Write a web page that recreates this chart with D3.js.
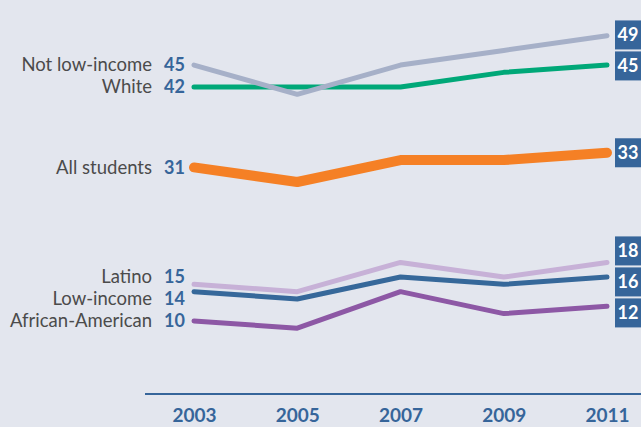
<!DOCTYPE html>
<html>
<head>
<meta charset="utf-8">
<script src="https://cdn.jsdelivr.net/npm/d3@7"></script>
<style>
  html, body { margin: 0; padding: 0; background: #e3e6ee; }
  svg { display: block; }
</style>
</head>
<body>
<svg id="chart" width="641" height="427"></svg>
<script>
// ---- data ----
const years = [2003, 2005, 2007, 2009, 2011];
const seriesNames = ["Not low-income", "White", "All students", "Latino", "Low-income", "African-American"];
const notLowIncome    = [45, 41, 45, 47, 49];
const white           = [42, 42, 42, 44, 45];
const allStudents     = [31, 29, 32, 32, 33];
const latino          = [15, 14, 18, 16, 18];
const lowIncome       = [14, 13, 16, 15, 16];
const africanAmerican = [10, 9, 14, 11, 12];

// ---- styles ----
const seriesColors = ["#a6b0c8", "#00a878", "#f58025", "#c7b1d7", "#36689a", "#8d58a5"];
const seriesWidths = [5, 5, 10, 5, 5, 5];
const drawOrder = [1, 0, 2, 3, 4, 5];
const blue = "#36659a";
const fontFam = "Lato, 'Open Sans', sans-serif";

const seriesValues = [notLowIncome, white, allStudents, latino, lowIncome, africanAmerican];
const series = seriesNames.map((name, i) => ({
  name, color: seriesColors[i], width: seriesWidths[i],
  values: years.map((yr, j) => ({ year: yr, value: seriesValues[i][j] }))
}));

const W = 641, H = 427;
const svg = d3.select("#chart");
svg.append("rect").attr("width", W).attr("height", H).attr("fill", "#e3e6ee");

const x = d3.scalePoint().domain(years).range([194, 607]);
const y = d3.scaleLinear().domain([0, 50]).range([394, 28.5]);

// axis
svg.append("line")
  .attr("x1", 145).attr("x2", W)
  .attr("y1", y(0)).attr("y2", y(0))
  .attr("stroke", blue).attr("stroke-width", 2);

const axis = svg.append("g")
  .attr("transform", `translate(0,${y(0)})`)
  .call(d3.axisBottom(x).tickSize(0).tickPadding(15).tickFormat(d3.format("d")));
axis.select(".domain").remove();
axis.selectAll("text")
  .attr("fill", blue)
  .style("font-family", fontFam)
  .style("font-size", "19px")
  .style("font-weight", "bold");

// lines
const line = d3.line().x(d => x(d.year)).y(d => y(d.value));
svg.append("g").selectAll("path")
  .data(drawOrder.map(i => series[i]))
  .join("path")
  .attr("d", d => line(d.values))
  .attr("fill", "none")
  .attr("stroke", d => d.color)
  .attr("stroke-width", d => d.width)
  .attr("stroke-linecap", "round")
  .attr("stroke-linejoin", "round");

// label de-overlap: groups of close labels spread around their mean
function spread(targets, gap) {
  const items = targets.map((t, i) => ({ i, t })).sort((a, b) => a.t - b.t);
  let groups = items.map(it => ({ members: [it], top: it.t }));
  let changed = true;
  const place = g => {
    const mean = d3.mean(g.members, m => m.t);
    g.top = mean - (g.members.length - 1) * gap / 2;
  };
  groups.forEach(place);
  while (changed) {
    changed = false;
    for (let k = 0; k < groups.length - 1; k++) {
      const a = groups[k], b = groups[k + 1];
      const aBottom = a.top + (a.members.length - 1) * gap;
      if (b.top - aBottom < gap) {
        a.members = a.members.concat(b.members);
        place(a);
        groups.splice(k + 1, 1);
        changed = true;
        break;
      }
    }
  }
  const out = new Array(targets.length);
  groups.forEach(g => g.members.forEach((m, j) => { out[m.i] = g.top + j * gap; }));
  return out;
}

// left labels
const leftY = spread(series.map(s => y(s.values[0].value)), 22);
const left = svg.append("g");
series.forEach((s, i) => {
  left.append("text")
    .attr("x", 152).attr("y", leftY[i]).attr("dy", "0.35em")
    .attr("text-anchor", "end")
    .attr("fill", "#4b4b4b")
    .style("font-family", fontFam).style("font-size", "18.5px")
    .text(s.name);
  left.append("text")
    .attr("x", 185).attr("y", leftY[i]).attr("dy", "0.35em")
    .attr("text-anchor", "end")
    .attr("fill", blue)
    .style("font-family", fontFam).style("font-size", "18px").style("font-weight", "bold")
    .text(s.values[0].value);
});

// right labels (boxes)
const last = years.length - 1;
const rightY = spread(series.map(s => y(s.values[last].value)), 31);
const right = svg.append("g");
series.forEach((s, i) => {
  right.append("rect")
    .attr("x", 615).attr("y", rightY[i] - 14.5)
    .attr("width", 28).attr("height", 29)
    .attr("fill", blue);
  right.append("text")
    .attr("x", 628).attr("y", rightY[i]).attr("dy", "0.36em")
    .attr("text-anchor", "middle")
    .attr("fill", "#ffffff")
    .style("font-family", fontFam).style("font-size", "18px").style("font-weight", "bold")
    .text(s.values[last].value);
});
</script>
</body>
</html>
